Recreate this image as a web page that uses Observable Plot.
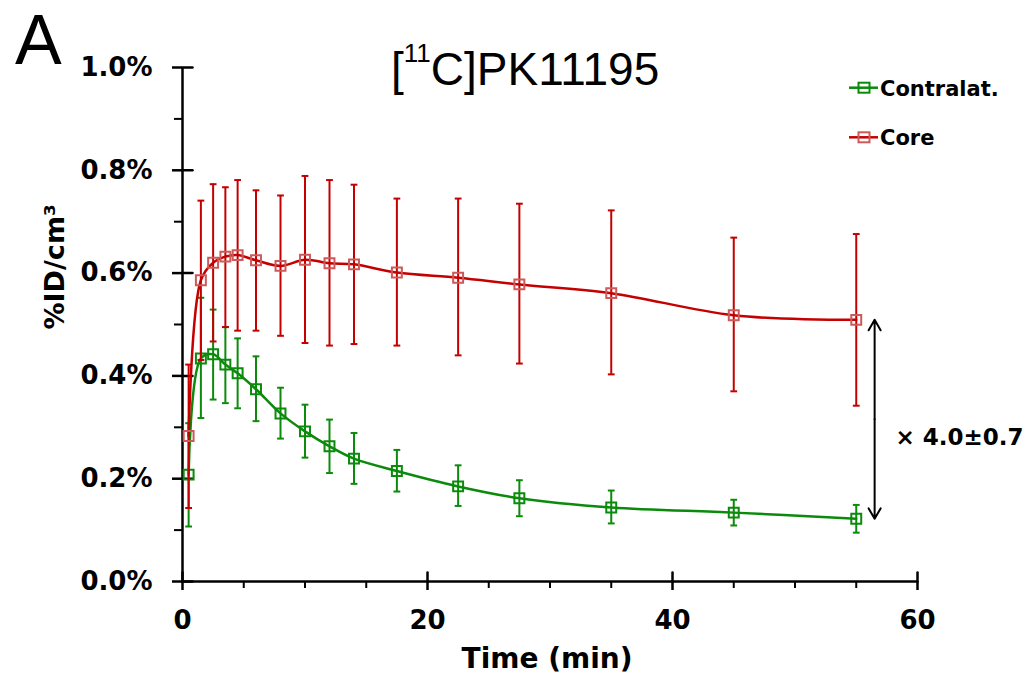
<!DOCTYPE html>
<html>
<head>
<meta charset="utf-8">
<script src="https://cdn.jsdelivr.net/npm/d3@7"></script>
<script src="https://cdn.jsdelivr.net/npm/@observablehq/plot@0.6"></script>
<style>
  body { margin: 0; background: #fff; }
  #wrap { position: relative; width: 1023px; height: 682px; overflow: hidden; }
  #chart svg { display: block; }
  #overlay { position: absolute; left: 0; top: 0; pointer-events: none; }
</style>
</head>
<body>
<div id="wrap">
  <div id="chart"></div>
  <svg id="overlay" width="1023" height="682">
    <text x="15" y="64" font-family="Liberation Sans" font-size="70" fill="#000">A</text>
    <text x="391" y="85" font-family="Liberation Sans" font-size="46" fill="#000">[<tspan font-size="26" dy="-23">11</tspan><tspan dy="23">C]PK11195</tspan></text>
    <g id="legend"></g>
  </svg>
</div>
<script>
// ---- data (values in %ID/cm3) ----
const times = [0.5, 1.5, 2.5, 3.5, 4.5, 6, 8, 10, 12, 14, 17.5, 22.5, 27.5, 35, 45, 55];

const contraMean = [0.208, 0.434, 0.442, 0.422, 0.405, 0.374, 0.327, 0.292, 0.263, 0.239, 0.215, 0.185, 0.162, 0.144, 0.134, 0.122];
const contraHi   = [0.308, 0.552, 0.529, 0.495, 0.473, 0.438, 0.377, 0.344, 0.315, 0.289, 0.256, 0.226, 0.197, 0.177, 0.159, 0.149];
const contraLo   = [0.107, 0.318, 0.354, 0.347, 0.337, 0.312, 0.278, 0.241, 0.211, 0.190, 0.175, 0.147, 0.127, 0.113, 0.109, 0.095];

const coreMean = [0.283, 0.586, 0.620, 0.632, 0.635, 0.625, 0.614, 0.626, 0.619, 0.617, 0.601, 0.591, 0.578, 0.561, 0.518, 0.509];
const coreHi   = [0.422, 0.741, 0.773, 0.767, 0.781, 0.761, 0.751, 0.789, 0.781, 0.772, 0.745, 0.745, 0.735, 0.722, 0.669, 0.676];
const coreLo   = [0.143, 0.431, 0.467, 0.495, 0.488, 0.488, 0.478, 0.464, 0.459, 0.462, 0.459, 0.440, 0.424, 0.403, 0.370, 0.342];

const seriesNames = ["Contralat.", "Core"];
const xMajorTicks = [0, 20, 40, 60];
const xMinorTicks = [5, 10, 15, 25, 30, 35, 45, 50, 55];
const yMajorTicks = [0, 0.2, 0.4, 0.6, 0.8, 1.0];
const yMinorTicks = [0.1, 0.3, 0.5, 0.7, 0.9];
const xLabel = "Time (min)";
const yLabel = "%ID/cm³";
const ratioText = "× 4.0±0.7";
const ratioArrowX = 56.5;
const ratioLabelX = 58.2;
const ratioLabelY = 0.28;

// ---- styles ----
const lineColor = {"Contralat.": "#0b8a0b", "Core": "#c40000"};
const markColor = {"Contralat.": "#0b8a0b", "Core": "#cc5a5a"};
const boldFont = "DejaVu Sans";

const makeRows = (name, mean, lo, hi) => times.map((t, i) => ({series: name, t, mean: mean[i], lo: lo[i], hi: hi[i]}));
const contraRows = makeRows(seriesNames[0], contraMean, contraLo, contraHi);
const coreRows = makeRows(seriesNames[1], coreMean, coreLo, coreHi);

const capSymbol = {draw(ctx, size) { const r = Math.sqrt(size / Math.PI); ctx.moveTo(-r, 0); ctx.lineTo(r, 0); }};
const tickShape = {draw(ctx, l) { ctx.moveTo(0, 0); ctx.lineTo(0, -l); }};

function seriesMarks(rows, name) {
  const c = lineColor[name], m = markColor[name];
  return [
    Plot.ruleX(rows, {x: "t", y1: "lo", y2: "hi", stroke: c, strokeWidth: 2}),
    Plot.dot(rows, {x: "t", y: "hi", symbol: capSymbol, r: 3.4, stroke: c, strokeWidth: 2}),
    Plot.dot(rows, {x: "t", y: "lo", symbol: capSymbol, r: 3.4, stroke: c, strokeWidth: 2}),
    Plot.line(rows, {x: "t", y: "mean", stroke: c, strokeWidth: 2.5, curve: "catmull-rom"}),
    Plot.dot(rows, {x: "t", y: "mean", symbol: "square", r: 5.6, stroke: m, fill: "none", strokeWidth: 2})
  ];
}

const coreLast = coreMean[coreMean.length - 1];
const contraLast = contraMean[contraMean.length - 1];
const ratioMid = (coreLast + contraLast) / 2;
const ratioArrows = [
  {x: ratioArrowX, y1: ratioMid, y2: coreLast},
  {x: ratioArrowX, y1: ratioMid, y2: contraLast}
];

const chart = Plot.plot({
  width: 1023,
  height: 682,
  marginLeft: 182,
  marginRight: 106,
  marginTop: 67,
  marginBottom: 101,
  style: {fontFamily: boldFont, background: "#fff", color: "#000"},
  x: {domain: [0, 60]},
  y: {domain: [0, 1.0]},
  marks: [
    // axes
    Plot.axisY({ticks: yMajorTicks, tickSize: 10, tickPadding: 20, strokeWidth: 2.5,
      tickFormat: d => d.toFixed(1) + "%", fontSize: 26, fontWeight: "bold", fontFamily: boldFont, label: null}),
    Plot.axisY({ticks: yMinorTicks, tickSize: 8, strokeWidth: 2, tickFormat: () => "", label: null}),
    Plot.vector(yMajorTicks, {x: 0, y: d => d, rotate: 90, length: 10, anchor: "start", shape: tickShape, stroke: "#000", strokeWidth: 2.5}),
    Plot.axisX({ticks: xMajorTicks, tickSize: 9, tickPadding: 20, strokeWidth: 2.5,
      tickFormat: d => String(d), fontSize: 26, fontWeight: "bold", fontFamily: boldFont, label: null}),
    Plot.axisX({ticks: xMinorTicks, tickSize: 7, strokeWidth: 2, tickFormat: () => "", label: null}),
    Plot.vector(xMajorTicks, {x: d => d, y: 0, rotate: 0, length: 9, anchor: "start", shape: tickShape, stroke: "#000", strokeWidth: 2.5}),
    Plot.ruleX([0], {stroke: "#000", strokeWidth: 2.5}),
    Plot.ruleY([0], {stroke: "#000", strokeWidth: 2.5}),
    Plot.text([xLabel], {frameAnchor: "bottom", dy: 86, dx: -3, fontSize: 28, fontWeight: "bold", fontFamily: boldFont}),
    Plot.text([yLabel], {frameAnchor: "left", rotate: -90, dx: -127, dy: 5, fontSize: 27, fontWeight: "bold", fontFamily: boldFont}),
    // data
    ...seriesMarks(contraRows, seriesNames[0]),
    ...seriesMarks(coreRows, seriesNames[1]),
    // ratio annotation
    Plot.arrow(ratioArrows, {x1: "x", x2: "x", y1: "y1", y2: "y2", stroke: "#000", strokeWidth: 2, headLength: 9, headAngle: 60}),
    Plot.text([ratioText], {x: () => ratioLabelX, y: () => ratioLabelY, textAnchor: "start", fontSize: 23, fontWeight: "bold", fontFamily: boldFont})
  ]
});
document.getElementById("chart").appendChild(chart);

// legend
const ns = "http://www.w3.org/2000/svg";
const lg = document.getElementById("legend");
const legendY = [87.7, 137.3];
seriesNames.forEach((name, i) => {
  const y = legendY[i];
  const ln = document.createElementNS(ns, "line");
  ln.setAttribute("x1", 849); ln.setAttribute("x2", 878); ln.setAttribute("y1", y); ln.setAttribute("y2", y);
  ln.setAttribute("stroke", lineColor[name]); ln.setAttribute("stroke-width", 2.5);
  lg.appendChild(ln);
  const sq = document.createElementNS(ns, "rect");
  sq.setAttribute("x", 858.5); sq.setAttribute("y", y - 5); sq.setAttribute("width", 11); sq.setAttribute("height", 10);
  sq.setAttribute("fill", "none"); sq.setAttribute("stroke", markColor[name]); sq.setAttribute("stroke-width", 2);
  lg.appendChild(sq);
  const tx = document.createElementNS(ns, "text");
  tx.setAttribute("x", 880); tx.setAttribute("y", y + 8);
  tx.setAttribute("font-family", boldFont); tx.setAttribute("font-weight", "bold"); tx.setAttribute("font-size", 21);
  tx.textContent = name;
  lg.appendChild(tx);
});
</script>
</body>
</html>
